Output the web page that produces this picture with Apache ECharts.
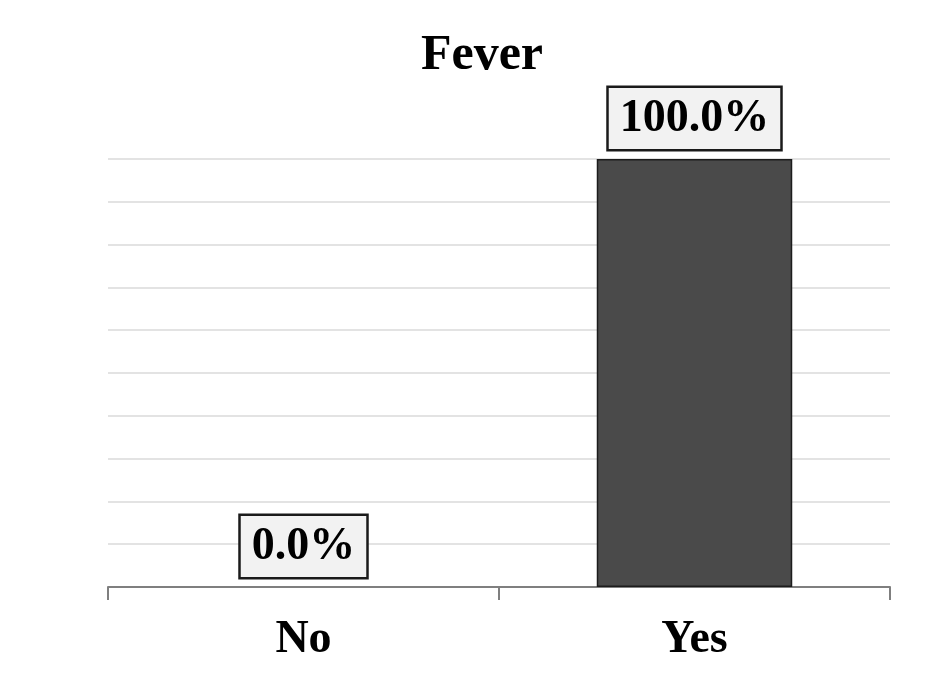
<!DOCTYPE html>
<html><head><meta charset="utf-8">
<script src="https://cdn.jsdelivr.net/npm/echarts@6/dist/echarts.min.js"></script>
<style>html,body{margin:0;padding:0;background:#fff}#c{width:942px;height:674px}</style>
</head><body><div id="c"></div>
<script>
const titleText = 'Fever';
const categories = ['No', 'Yes'];
const values = [0.0, 100.0];
const yMax = 100;
const yInterval = 10;

const font = '"Liberation Serif","Times New Roman",serif';
const chart = echarts.init(document.getElementById('c'), null, {renderer: 'canvas'});
chart.setOption({
  backgroundColor: '#ffffff',
  animation: false,
  title: {
    text: titleText, left: 477, top: 26, textAlign: 'center',
    textStyle: {fontFamily: font, fontWeight: 'bold', fontSize: 50, color: '#000'}
  },
  grid: {left: 108, right: 52, top: 159, bottom: 87, containLabel: false},
  xAxis: {
    type: 'category', data: categories,
    axisLine: {lineStyle: {color: '#7f7f7f', width: 2}},
    axisTick: {show: true, length: 13, lineStyle: {color: '#7f7f7f', width: 2}},
    axisLabel: {fontFamily: font, fontWeight: 'bold', fontSize: 46, color: '#000', margin: 30}
  },
  yAxis: {
    type: 'value', min: 0, max: yMax, interval: yInterval,
    axisLabel: {show: false}, axisLine: {show: false}, axisTick: {show: false},
    splitLine: {lineStyle: {color: '#e3e3e3', width: 2}}
  },
  series: [{
    type: 'bar', barWidth: '50%',
    data: values.map(v => ({value: v, itemStyle: v === 0 ? {borderWidth: 0} : {}})),
    itemStyle: {color: '#4a4a4a', borderColor: '#1c1c1c', borderWidth: 1.5},
    label: {
      show: true, position: 'top', distance: 10,
      formatter: p => p.value.toFixed(1) + '%',
      fontFamily: font, fontWeight: 'bold', fontSize: 46, color: '#000',
      backgroundColor: '#f2f2f2', borderColor: '#1a1a1a', borderWidth: 2.5,
      padding: [9, 11, 8, 11], lineHeight: 44
    }
  }]
});
</script></body></html>
